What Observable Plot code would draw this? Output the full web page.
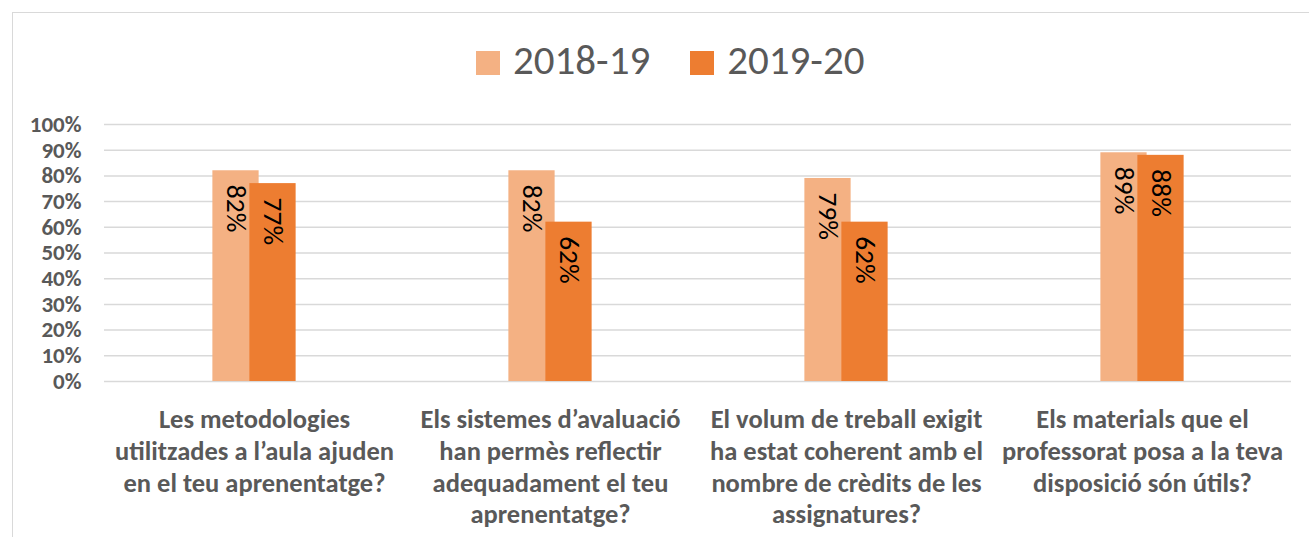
<!DOCTYPE html>
<html>
<head>
<meta charset="utf-8">
<script src="https://cdn.jsdelivr.net/npm/d3@7"></script>
<script src="https://cdn.jsdelivr.net/npm/@observablehq/plot@0.6"></script>
<style>
  html, body { margin: 0; padding: 0; background: #fff; }
  #wrap { position: relative; width: 1309px; height: 537px; overflow: hidden; font-family: Carlito, Lato, sans-serif; }
  #frame { position: absolute; left: 12px; top: 12px; width: 1320px; height: 560px; border-top: 1.5px solid #d9d9d9; border-left: 1.5px solid #d9d9d9; }
  #legend { position: absolute; left: 476px; top: 34px; height: 52px; display: flex; align-items: center; color: #595959; font-size: 41px; line-height: 1; }
  .item { display: flex; align-items: center; margin-right: 40px; }
  .sw { width: 24px; height: 24px; margin-right: 13px; margin-top: 5px; }
  #chart { position: absolute; left: 0; top: 95px; }
</style>
</head>
<body>
<div id="wrap">
  <div id="frame"></div>
  <div id="legend"></div>
  <div id="chart"></div>
</div>
<script>
const categories = [
  "Les metodologies\nutilitzades a l’aula ajuden\nen el teu aprenentatge?",
  "Els sistemes d’avaluació\nhan permès reflectir\nadequadament el teu\naprenentatge?",
  "El volum de treball exigit\nha estat coherent amb el\nnombre de crèdits de les\nassignatures?",
  "Els materials que el\nprofessorat posa a la teva\ndisposició són útils?"
];
const series = ["2018-19", "2019-20"];
const values1819 = [82, 82, 79, 89];
const values1920 = [77, 62, 62, 88];
const yTicks = [0, 10, 20, 30, 40, 50, 60, 70, 80, 90, 100];
const colors = ["#F4B183", "#ED7D31"];

const data1819 = categories.map((c, i) => ({cat: c, v: values1819[i], s: series[0]}));
const data1920 = categories.map((c, i) => ({cat: c, v: values1920[i], s: series[1]}));

// legend
const legend = document.getElementById("legend");
series.forEach((s, i) => {
  const it = document.createElement("div");
  it.className = "item";
  it.innerHTML = `<span class="sw" style="background:${colors[i]}"></span><span>${s}</span>`;
  legend.appendChild(it);
});

const W = 1309, H = 442;
const mL = 104, mR = 18;
const barW = 47, off = 18.5;
const step = (W - mL - mR) / categories.length;
const inset = (step - barW) / 2;

const chart = Plot.plot({
  width: W,
  height: H,
  marginLeft: mL,
  marginRight: mR,
  marginTop: 29,
  marginBottom: 156,
  style: {fontFamily: "Carlito, Lato, sans-serif", background: "transparent", overflow: "visible"},
  x: {domain: categories, padding: 0},
  y: {domain: [0, 100], ticks: yTicks},
  marks: [
    Plot.gridY(yTicks, {stroke: "#d9d9d9", strokeOpacity: 1, strokeWidth: 1.5}),
    Plot.axisY(yTicks, {tickSize: 0, tickPadding: 23, tickFormat: d => d + "%", fontSize: 23, fontWeight: "bold", fill: "#595959", label: null}),
    Plot.axisX({tickSize: 0, tickPadding: 24, fontSize: 26.5, fontWeight: "bold", fill: "#595959", lineHeight: 1.2, label: null}),
    Plot.barY(data1819, {x: "cat", y: "v", fill: colors[0], insetLeft: inset, insetRight: inset, dx: -off}),
    Plot.barY(data1920, {x: "cat", y: "v", fill: colors[1], insetLeft: inset, insetRight: inset, dx: off}),
    Plot.text(data1819, {x: "cat", y: "v", text: d => d.v + "%", rotate: 90, textAnchor: "start", lineAnchor: "middle", dx: -off, dy: 14, fontSize: 27.5, fill: "#000"}),
    Plot.text(data1920, {x: "cat", y: "v", text: d => d.v + "%", rotate: 90, textAnchor: "start", lineAnchor: "middle", dx: off, dy: 14, fontSize: 27.5, fill: "#000"})
  ]
});
document.getElementById("chart").appendChild(chart);
</script>
</body>
</html>
